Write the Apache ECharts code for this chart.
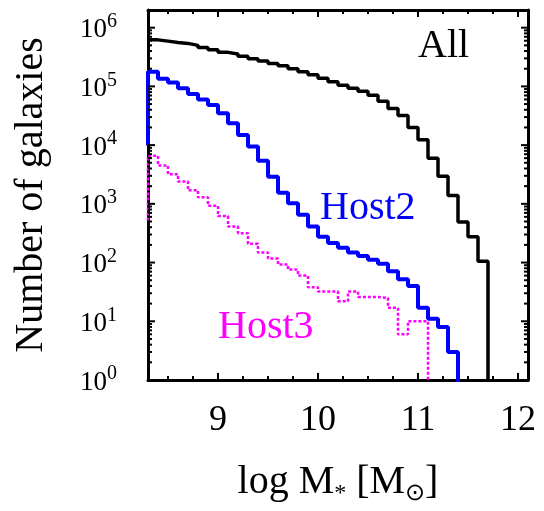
<!DOCTYPE html>
<html>
<head>
<meta charset="utf-8">
<script src="https://cdn.jsdelivr.net/npm/echarts@6/dist/echarts.min.js"></script>
<style>
  html, body { margin: 0; background: #fff; }
  #chart { width: 544px; height: 511px; }
</style>
</head>
<body>
<div id="chart"></div>
<script>
// left edge of every 0.1 dex stellar-mass bin (log M*)
const binLeft = [8.2, 8.3, 8.4, 8.5, 8.6, 8.7, 8.8, 8.9, 9.0, 9.1, 9.2, 9.3, 9.4, 9.5, 9.6, 9.7, 9.8, 9.9,
  10.0, 10.1, 10.2, 10.3, 10.4, 10.5, 10.6, 10.7, 10.8, 10.9, 11.0, 11.1, 11.2, 11.3, 11.4, 11.5, 11.6, 11.7]

// galaxies per bin (null = not plotted, 0 = empty bin)
const allCounts = [null, 620000, 590000, 560000, 540000, 500000, 460000, 420000, 380000, 355000, 325000, 295000,
  270000, 245000, 225000, 200000, 178000, 158000, 138000, 120000, 105000, 93000, 83000, 71000, 56000, 42000,
  32000, 20000, 12300, 6000, 2950, 1380, 490, 275, 105, 0]
const host2Counts = [10700, 178000, 135000, 117000, 93000, 74000, 60000, 48000, 35000, 23500, 14800, 9500,
  5400, 2900, 1550, 1020, 650, 410, 275, 215, 178, 148, 129, 112, 95, 71, 52, 40, 17, 11, 8, 3, 0,
  null, null, null]
const host3Counts = [520, 6600, 4500, 3200, 2400, 1700, 1290, 930, 620, 410, 316, 209, 148, 117, 93, 76, 60,
  38, 32, 32, 22, 32, 26, 26, 25, 17, 6, 10, 10, 0, null, null, null, null, null, null]

const xLabels = [9, 10, 11, 12]
const xMinor = [8.5, 8.75, 9.25, 9.5, 9.75, 10.25, 10.5, 10.75, 11.25, 11.5, 11.75]
const yLabels = [1, 10, 100, 1000, 10000, 100000, 1000000]
const yMinor = []
for (let k = 0; k < 6; k++) {
  for (let m = 2; m < 10; m++) yMinor.push(m * Math.pow(10, k))
}

const xMin = 8.3
const xMax = 12.1
const yMin = 1
const yMax = 2000000

// an empty bin cannot sit on a log axis, draw it below the frame so the step drops out
const emptyBin = 0.1
const serif = 'Liberation Serif'

function toPoints(counts) {
  return binLeft
    .map((x, i) => [x, counts[i]])
    .filter(p => p[1] != null)
    .map(p => [p[0], p[1] === 0 ? emptyBin : p[1]])
}

function xAxisFor(position, withLabels) {
  return {
    type: 'value',
    position: position,
    min: xMin,
    max: xMax,
    axisLine: { show: true, onZero: false, lineStyle: { color: '#000', width: 3 } },
    splitLine: { show: false },
    axisTick: { show: false },
    axisLabel: withLabels ? {
      customValues: xLabels,
      margin: 23,
      color: '#000',
      fontFamily: serif,
      fontSize: 36
    } : { show: false }
  }
}

function yAxisFor(position, withLabels) {
  return {
    type: 'log',
    position: position,
    min: yMin,
    max: yMax,
    axisLine: { show: true, onZero: false, lineStyle: { color: '#000', width: 3 } },
    splitLine: { show: false },
    axisTick: { show: false },
    axisLabel: withLabels ? {
      customValues: yLabels,
      margin: 31,
      formatter: v => '{b|10}{e|' + Math.round(Math.log10(v)) + '}',
      rich: {
        b: { fontFamily: serif, fontSize: 27, color: '#000', lineHeight: 32, verticalAlign: 'bottom' },
        e: { fontFamily: serif, fontSize: 20, color: '#000', lineHeight: 20, verticalAlign: 'top' }
      }
    } : { show: false }
  }
}

function histLine(name, counts, color, width, dash) {
  return {
    name: name,
    type: 'line',
    step: 'end',
    symbol: 'none',
    data: toPoints(counts),
    lineStyle: { color: color, width: width, type: dash || 'solid', cap: 'butt' },
    animation: false
  }
}

const chart = echarts.init(document.getElementById('chart'))

const bottomAxis = xAxisFor('bottom', true)
bottomAxis.name = '{n|log M}{s|*}{n| [M}{s|⊙}{n|]}'
bottomAxis.nameLocation = 'middle'
bottomAxis.nameGap = 82
bottomAxis.nameTextStyle = {
  rich: {
    n: { fontFamily: serif, fontSize: 40, color: '#000', lineHeight: 44, verticalAlign: 'top' },
    s: { fontFamily: serif, fontSize: 24, color: '#000', lineHeight: 24, verticalAlign: 'bottom' }
  }
}

const leftAxis = yAxisFor('left', true)
leftAxis.name = 'Number of galaxies'
leftAxis.nameLocation = 'middle'
leftAxis.nameGap = 97
leftAxis.nameTextStyle = { fontFamily: serif, fontSize: 40, color: '#000' }

chart.setOption({
  backgroundColor: '#fff',
  animation: false,
  grid: {
    left: 148,
    right: 16,
    top: 10,
    bottom: 126,
    show: false,
    containLabel: false
  },
  xAxis: [bottomAxis, xAxisFor('top', false)],
  yAxis: [leftAxis, yAxisFor('right', false)],
  series: [
    histLine('All', allCounts, '#000000', 3.5),
    histLine('Host2', host2Counts, '#0000ff', 4),
    histLine('Host3', host3Counts, '#ff00ff', 2.5, [3, 2])
  ]
})

// inward ticks on all four sides, placed through the chart's own scales
const finder = { seriesIndex: 0 }
const corner0 = chart.convertToPixel(finder, [xMin, yMin])
const corner1 = chart.convertToPixel(finder, [xMax, yMax])
const frameLeft = corner0[0], frameBottom = corner0[1]
const frameRight = corner1[0], frameTop = corner1[1]

function tick(x1, y1, x2, y2) {
  return { type: 'line', z: 100, silent: true, shape: { x1, y1, x2, y2 }, style: { stroke: '#000', lineWidth: 2 } }
}

const tickLines = []
xLabels.concat(xMinor).forEach(v => {
  const x = chart.convertToPixel(finder, [v, yMin])[0]
  const len = xLabels.indexOf(v) >= 0 ? 7 : 4
  tickLines.push(tick(x, frameBottom, x, frameBottom - len))
  tickLines.push(tick(x, frameTop, x, frameTop + len))
})
yLabels.concat(yMinor).forEach(v => {
  const y = chart.convertToPixel(finder, [xMin, v])[1]
  const len = yLabels.indexOf(v) >= 0 ? 7 : 4
  tickLines.push(tick(frameLeft, y, frameLeft + len, y))
  tickLines.push(tick(frameRight, y, frameRight - len, y))
})

const seriesLabels = [
  { type: 'text', left: 418, top: 26, style: { text: 'All', fill: '#000', font: '40px "Liberation Serif"' } },
  { type: 'text', left: 320, top: 188, style: { text: 'Host2', fill: '#0000ff', font: '40px "Liberation Serif"' } },
  { type: 'text', left: 218, top: 307, style: { text: 'Host3', fill: '#ff00ff', font: '40px "Liberation Serif"' } }
]

chart.setOption({ graphic: { elements: seriesLabels.concat(tickLines) } })
</script>
</body>
</html>
